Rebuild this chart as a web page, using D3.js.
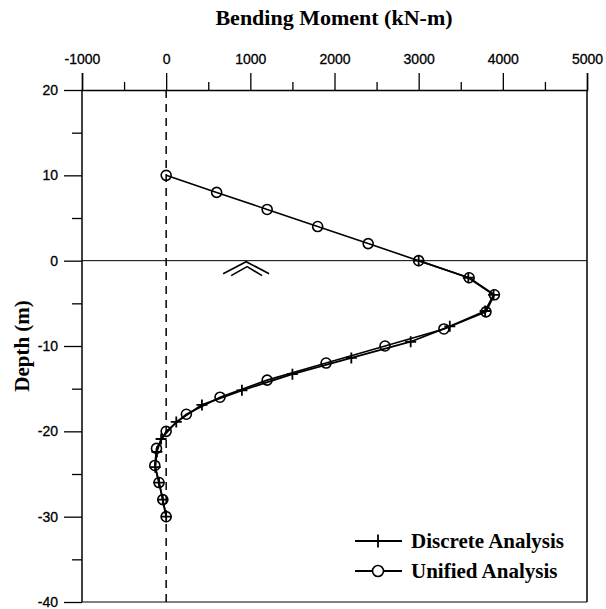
<!DOCTYPE html>
<html><head><meta charset="utf-8">
<script src="https://cdn.jsdelivr.net/npm/d3@7"></script>
<style>body{margin:0;background:#fff}</style>
</head><body>
<svg id="c" width="606" height="609"></svg>
<script>
// Data
const xTicks = [-1000, 0, 1000, 2000, 3000, 4000, 5000];
const xMinor = [-500, 500, 1500, 2500, 3500, 4500];
const yTicks = [20, 10, 0, -10, -20, -30, -40];
const yMinor = [15, 5, -5, -15, -25, -35];

const unifiedMoment = [0, 600, 1200, 1800, 2400, 3000, 3600, 3900, 3800, 3300, 2600, 1900, 1200, 640, 240, 0, -115, -135, -85, -40, 0];
const unifiedDepth  = [10, 8, 6, 4, 2, 0, -2, -4, -6, -8, -10, -12, -14, -16, -18, -20, -22, -24, -26, -28, -30];

const discreteMoment = [3000, 3590, 3890, 3790, 3370, 2905, 2200, 1500, 900, 425, 120, -60, -110, -130, -85, -40, 0];
const discreteDepth  = [0, -2, -4, -5.9, -7.7, -9.5, -11.4, -13.3, -15.2, -16.9, -18.9, -20.9, -22.4, -24.2, -26, -28, -30];

const legendLabels = ["Discrete Analysis", "Unified Analysis"];
const groundSymbol = {moment: 950, depth: 0};

const svg = d3.select("#c");
const L = 82, R = 587, T = 90, B = 602;
const x = d3.scaleLinear().domain([-1000, 5000]).range([L, R]);
const y = d3.scaleLinear().domain([20, -40]).range([T, B]);
const fmt = d => String(d);

// Title
svg.append("text").attr("x", 334).attr("y", 25).attr("text-anchor", "middle")
  .attr("font-family", "Liberation Serif, serif").attr("font-weight", "bold").attr("font-size", 22)
  .text("Bending Moment (kN-m)");
svg.append("text").attr("transform", "translate(29,346) rotate(-90)").attr("text-anchor", "middle")
  .attr("font-family", "Liberation Serif, serif").attr("font-weight", "bold").attr("font-size", 21)
  .text("Depth (m)");

// Frame
const g = svg.append("g");
g.append("line").attr("x1", L).attr("x2", L).attr("y1", T).attr("y2", B).attr("stroke", "#000").attr("stroke-width", 1.5);
g.append("line").attr("x1", R).attr("x2", R).attr("y1", T).attr("y2", B).attr("stroke", "#000").attr("stroke-width", 1.5);
g.append("line").attr("x1", L).attr("x2", R).attr("y1", B).attr("y2", B).attr("stroke", "#000").attr("stroke-width", 1.2);

// Top axis
const topAxis = d3.axisTop(x).tickValues(xTicks).tickSize(17).tickPadding(9).tickFormat(fmt);
const ta = svg.append("g").attr("transform", `translate(0,${T})`).call(topAxis);
ta.select(".domain").attr("stroke-width", 1.5);
ta.selectAll(".tick line").attr("stroke-width", 1.3);
ta.selectAll("text").attr("font-family", "Liberation Sans, Arial, sans-serif").attr("font-size", 14)
  .attr("fill", "#000").attr("stroke", "#000").attr("stroke-width", 0.3);
const taMinor = d3.axisTop(x).tickValues(xMinor).tickSize(8).tickFormat("");
svg.append("g").attr("transform", `translate(0,${T})`).call(taMinor).call(s => s.select(".domain").remove())
  .selectAll(".tick line").attr("stroke-width", 1.3);

// Left axis
const leftAxis = d3.axisLeft(y).tickValues(yTicks).tickSize(18).tickPadding(6).tickFormat(fmt);
const la = svg.append("g").attr("transform", `translate(${L},0)`).call(leftAxis);
la.select(".domain").remove();
la.selectAll(".tick line").attr("stroke-width", 1.3);
la.selectAll("text").attr("font-family", "Liberation Sans, Arial, sans-serif").attr("font-size", 14)
  .attr("fill", "#000").attr("stroke", "#000").attr("stroke-width", 0.3);
const laMinor = d3.axisLeft(y).tickValues(yMinor).tickSize(10).tickFormat("");
svg.append("g").attr("transform", `translate(${L},0)`).call(laMinor).call(s => s.select(".domain").remove())
  .selectAll(".tick line").attr("stroke-width", 1.3);

// Ground line (depth 0) and zero moment dashed line
svg.append("line").attr("x1", L).attr("x2", R).attr("y1", y(0)).attr("y2", y(0)).attr("stroke", "#000").attr("stroke-width", 1);
svg.append("line").attr("x1", x(0)).attr("x2", x(0)).attr("y1", T).attr("y2", B)
  .attr("stroke", "#000").attr("stroke-width", 1.5).attr("stroke-dasharray", "8,6");

// Ground symbol (double chevron)
const gx = x(groundSymbol.moment), gy = y(groundSymbol.depth);
const sym = svg.append("g").attr("fill", "none").attr("stroke", "#000").attr("stroke-width", 1.6);
sym.append("path").attr("d", `M${gx-23},${gy+13} L${gx},${gy+1} L${gx+23},${gy+13}`);
sym.append("path").attr("d", `M${gx-15},${gy+15} L${gx+1},${gy+6} L${gx+16},${gy+15}`);

// Series
const line = d3.line().x(d => x(d[0])).y(d => y(d[1]));
const uni = unifiedMoment.map((m, i) => [m, unifiedDepth[i]]);
const dis = discreteMoment.map((m, i) => [m, discreteDepth[i]]);

svg.append("path").datum(dis).attr("d", line).attr("fill", "none").attr("stroke", "#000").attr("stroke-width", 1.8);
svg.append("path").datum(uni).attr("d", line).attr("fill", "none").attr("stroke", "#000").attr("stroke-width", 1.6);

const cs = 5.5;
svg.append("g").selectAll("path").data(dis).join("path")
  .attr("d", d => `M${x(d[0])-cs},${y(d[1])} H${x(d[0])+cs} M${x(d[0])},${y(d[1])-cs} V${y(d[1])+cs}`)
  .attr("stroke", "#000").attr("stroke-width", 1.8);
svg.append("g").selectAll("circle").data(uni).join("circle")
  .attr("cx", d => x(d[0])).attr("cy", d => y(d[1])).attr("r", 5)
  .attr("fill", "none").attr("stroke", "#000").attr("stroke-width", 1.6);

// Legend
const lg = svg.append("g");
const ly = [541, 571];
legendLabels.forEach((lab, i) => {
  lg.append("line").attr("x1", 355).attr("x2", 402).attr("y1", ly[i]).attr("y2", ly[i]).attr("stroke", "#000").attr("stroke-width", 1.8);
  if (i === 0) {
    lg.append("path").attr("d", `M378,${ly[i]-cs-1} V${ly[i]+cs+1}`).attr("stroke", "#000").attr("stroke-width", 1.8);
  } else {
    lg.append("circle").attr("cx", 378).attr("cy", ly[i]).attr("r", 5.5).attr("fill", "#fff").attr("stroke", "#000").attr("stroke-width", 1.6);
  }
  lg.append("text").attr("x", 411).attr("y", ly[i] + 7).attr("font-family", "Liberation Serif, serif")
    .attr("font-weight", "bold").attr("font-size", 21).text(lab);
});
</script>
</body></html>
